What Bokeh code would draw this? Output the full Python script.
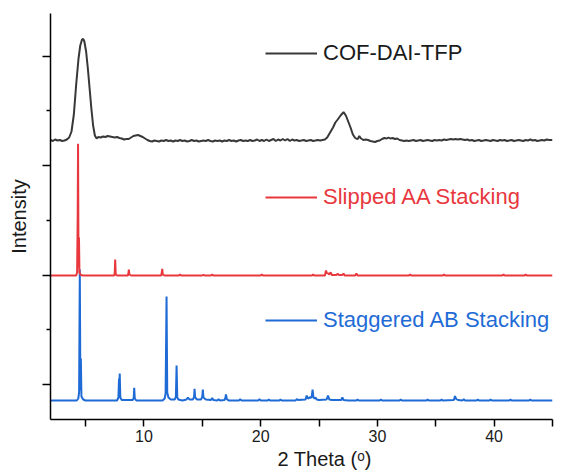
import numpy as np
from bokeh.plotting import figure
from bokeh.models import (Range1d, FixedTicker, Legend, LegendItem, Title, ColumnDataSource)
from bokeh.embed import file_html
from bokeh.resources import INLINE

# ---------------- data (2 Theta in degrees, intensity in arbitrary units above each baseline)
cof_x = [2.0, 2.2, 2.4, 2.6, 2.8, 3.0, 3.2, 3.4, 3.6, 3.8, 4.0, 4.2, 4.4, 4.55, 4.7, 4.8, 4.9, 5.05,
         5.2, 5.35, 5.5, 5.65, 5.8, 5.95, 6.1, 6.3, 6.5, 6.7, 6.9, 7.1, 7.3, 7.5, 7.7, 7.9, 8.1, 8.3,
         8.5, 8.7, 8.9, 9.1, 9.3, 9.5, 9.7, 9.9, 10.1, 10.3, 10.5, 10.7, 10.9, 11.1, 11.3, 11.5, 11.7,
         11.9, 12.1, 12.3, 12.5, 12.7, 12.9, 13.1, 13.3, 13.5, 13.7, 13.9, 14.1, 14.3, 14.5, 14.7,
         14.9, 15.1, 15.3, 15.5, 15.7, 15.9, 16.1, 16.3, 16.5, 16.7, 16.9, 17.1, 17.3, 17.5, 17.7,
         17.9, 18.1, 18.3, 18.5, 18.7, 18.9, 19.1, 19.3, 19.5, 19.7, 19.9, 20.1, 20.3, 20.5, 20.7,
         20.9, 21.1, 21.3, 21.5, 21.7, 21.9, 22.1, 22.3, 22.5, 22.7, 22.9, 23.1, 23.3, 23.5, 23.7,
         23.9, 24.1, 24.3, 24.5, 24.7, 24.9, 25.1, 25.3, 25.5, 25.7, 25.9, 26.2, 26.4, 26.6, 26.85,
         27.1, 27.3, 27.5, 27.7, 27.9, 28.1, 28.25, 28.35, 28.45, 28.6, 28.8, 29.0, 29.2, 29.4, 29.6,
         29.8, 30.0, 30.2, 30.4, 30.6, 30.8, 30.95, 31.1, 31.3, 31.5, 31.7, 31.9, 32.1, 32.3, 32.5,
         32.7, 32.9, 33.1, 33.3, 33.5, 33.7, 33.9, 34.1, 34.3, 34.5, 34.7, 34.9, 35.1, 35.3, 35.5,
         35.7, 35.9, 36.1, 36.3, 36.5, 36.7, 36.9, 37.1, 37.3, 37.5, 37.7, 37.9, 38.1, 38.3, 38.5,
         38.7, 38.9, 39.1, 39.3, 39.5, 39.7, 39.9, 40.1, 40.3, 40.5, 40.7, 40.9, 41.1, 41.3, 41.5,
         41.7, 41.9, 42.1, 42.3, 42.5, 42.7, 42.9, 43.1, 43.3, 43.5, 43.7, 43.9, 44.1, 44.3, 44.5,
         44.7, 45.0]
cof_y = [0.5, -0.5, 1, 0, 0.5, -0.5, 0, 1, 3, 9, 26, 56, 82, 95, 101, 101.7, 99, 89,
         72, 52, 32, 15, 5, 2, 3.5, 3, 4, 3.5, 4.5, 4, 3.5, 3, 3.5, 2.5, 2, 1,
         1.5, 1.5, 3, 4.5, 5, 5.5, 4.5, 3.5, 2, 0.5, -0.5, -1, 0, -0.5, -1, 0, -0.5,
         0.5, -0.5, 0, -1, 0, -0.5, 0.5, -0.5, 0, -1, -0.5, 0.5, -0.5, 0, -1,
         -0.5, 0, -0.5, 0.5, -0.5, -1, 0, -0.5, 0, -1, 0, -0.5, 0.5, -0.5, 0,
         -1, 0, 0.5, -0.5, 0, -0.5, 0.5, -0.5, 0, 1, -0.5, 0.5, -0.5, 1, -0.5,
         0.5, 1.5, -0.5, 1, 0, 1.5, 0, 1.5, -0.5, 1, 0, 0.5, -0.5, 0, 0.5,
         -0.5, 0, 0.5, -0.5, 0, 0.5, 0, 0.5, 1, 3, 7, 13, 18, 21, 25,
         28.4, 25, 19, 13, 6, 2.5, 1.5, 2, 4.5, 2, 0.5, 1, 0.5, -0.5, -1,
         -1.5, -0.5, 0, 1.5, 2.5, 2, 3, 2, 2.5, 1.5, 2, 0.5, 0, -0.5, 0,
         -0.5, 0, 0.5, -0.5, 0, 0.5, -0.5, 0, 0.5, 0, -0.5, 0.5, 0, 0.5, 0,
         1, 0.5, 1, 1.5, 1, 1.5, 1, 1.5, 1, 0.5, 1, 0, 0.5, -0.5, 0,
         0.5, -0.5, 0, 0.5, 0, -0.5, 0.5, 0, -0.5, 0.5, 0, 0.5, -0.5, 0, 0.5,
         -0.5, 0, 0.5, 0, -0.5, 0.5, 0, 1, 0, 0.5, -0.5, 0, 0.5, 0, 1,
         0.5, 0.5]

aa_x = [2.0, 4.2, 4.28, 4.33, 4.36, 4.40, 4.44, 4.48, 4.6, 4.8, 7.45, 7.5, 7.54, 7.59, 7.7,
        8.63, 8.67, 8.71, 8.76, 8.9, 11.48, 11.52, 11.57, 11.62, 11.75, 13.0, 13.1, 13.2,
        15.0, 15.1, 15.2, 15.75, 15.85, 15.95, 20.0, 20.1, 20.2, 24.4, 24.5, 24.6, 25.5, 25.6,
        25.68, 25.75, 25.85, 26.0, 26.1, 26.5, 26.6, 26.7, 27.0, 27.1, 27.2, 28.1, 28.2, 28.3,
        32.7, 32.8, 32.9, 35.6, 35.7, 35.8, 40.7, 40.8, 40.9, 42.6, 42.7, 42.8, 45.0]
aa_y = [0, 0, 3, 60, 131.7, 8, 38, 3, 0.5, 0, 0, 2, 16, 1, 0,
        0, 2, 6, 1, 0, 0, 2, 6.7, 1, 0, 0, 1, 0,
        0, 0.8, 0, 0, 1, 0, 0, 1, 0, 0, 1, 0, 0, 5,
        2, 2.5, 1, 3, 0.5, 0.5, 2, 0.5, 0.5, 2, 0, 0, 2, 0,
        0, 1, 0, 0, 1, 0, 0, 1, 0, 0, 1, 0, 0]

ab_x = [2.0, 4.25, 4.38, 4.45, 4.51, 4.56, 4.60, 4.65, 4.8, 5.0, 7.7, 7.82, 7.87, 7.90, 7.93,
        7.98, 8.1, 9.05, 9.13, 9.17, 9.22, 9.35, 11.6, 11.78, 11.86, 11.94, 12.0, 12.1, 12.3,
        12.65, 12.74, 12.8, 12.86, 12.95, 13.3, 13.65, 13.77, 13.9, 14.2, 14.3, 14.34, 14.39,
        14.55, 14.9, 15.0, 15.05, 15.1, 15.3, 15.75, 15.85, 15.95, 16.3, 16.4, 16.5, 16.9,
        16.98, 17.03, 17.1, 17.25, 18.15, 18.25, 18.35, 19.8, 19.9, 20.0, 20.6, 20.7, 20.8,
        21.6, 21.7, 21.8, 23.0, 23.1, 23.2, 23.85, 23.94, 24.04, 24.15, 24.2, 24.3, 24.38,
        24.45, 24.52, 24.62, 24.7, 24.8, 25.0, 25.65, 25.77, 25.88, 26.1, 26.9, 27.0, 27.1,
        27.5, 28.2, 28.3, 28.4, 30.2, 30.3, 30.4, 31.9, 32.0, 32.1, 34.2, 34.3, 34.4, 35.4,
        35.5, 35.6, 36.55, 36.65, 36.75, 36.9, 37.3, 37.4, 37.5, 38.5, 38.6, 38.7, 39.6, 39.7,
        39.8, 41.3, 41.4, 41.5, 43.0, 43.1, 43.2, 45.0]
ab_y = [0, 0, 2, 8, 131, 10, 42, 4, 1, 0, 0, 3, 22, 14, 27,
        3, 0.5, 0.5, 3, 12.7, 2, 0, 0, 2, 7, 104, 8, 3, 1,
        1, 4, 35, 3, 1, 0, 1, 3, 1, 1, 4, 11.7, 3,
        1, 1, 4, 11, 3, 1, 0.5, 2.5, 0.5, 0, 1.5, 0, 0.5,
        2.5, 6, 1.5, 0, 0, 1.5, 0, 0, 1.5, 0, 0, 1, 0,
        0, 1, 0, 0, 1.5, 0.5, 1, 5, 2, 2.5, 3.5, 2.5, 4,
        11, 3, 2, 3, 1, 0.5, 1, 5, 1, 0.5, 0.5, 3, 0.5,
        0, 0, 1, 0, 0, 1, 0, 0, 1, 0, 0, 1, 0, 0,
        1, 0, 0.5, 4.5, 1.5, 0.5, 0, 1.5, 0, 0, 1, 0, 0, 1,
        0, 0, 1, 0, 0, 1, 0, 0]

series_names = ["COF-DAI-TFP", "Slipped AA Stacking", "Staggered AB Stacking"]
series_offsets = [279, 144, 19]          # vertical stacking offsets (a.u.)
x_major_ticks = [10, 20, 30, 40]
x_minor_ticks = [5, 15, 25, 35, 45]
y_major_ticks = [35, 144.5, 254, 363.5]
y_minor_ticks = [89.75, 199.25, 308.75]

# ---------------- styling
FONT = "Liberation Sans"
C_BLACK, C_RED, C_BLUE = "#383838", "#E8383D", "#1F6BD6"

p = figure(width=561, height=474, output_backend="svg", toolbar_location=None,
           x_range=Range1d(2, 45), y_range=Range1d(0, 406),
           min_border_left=50, min_border_right=9, min_border_top=13, min_border_bottom=55)
p.outline_line_color = None
p.xgrid.visible = False
p.ygrid.visible = False
p.background_fill_color = "white"
p.border_fill_color = "white"

src_ab = ColumnDataSource(dict(x=ab_x, y=np.array(ab_y) + series_offsets[2]))
src_aa = ColumnDataSource(dict(x=aa_x, y=np.array(aa_y) + series_offsets[1]))
src_cof = ColumnDataSource(dict(x=cof_x, y=np.array(cof_y) + series_offsets[0]))

r_ab = p.line("x", "y", source=src_ab, line_color=C_BLUE, line_width=2)
r_aa = p.line("x", "y", source=src_aa, line_color=C_RED, line_width=2)
r_cof = p.line("x", "y", source=src_cof, line_color=C_BLACK, line_width=2)

# axes
xa = p.xaxis[0]
xa.ticker = FixedTicker(ticks=x_major_ticks, minor_ticks=x_minor_ticks)
xa.major_tick_out = 7
xa.major_tick_in = 0
xa.minor_tick_out = 7
xa.minor_tick_in = 0
xa.major_label_text_font = FONT
xa.major_label_text_font_size = "16px"
xa.major_label_text_color = "#1a1a1a"
xa.major_label_standoff = 3

ya = p.yaxis[0]
ya.ticker = FixedTicker(ticks=y_major_ticks, minor_ticks=y_minor_ticks)
ya.major_tick_out = 8
ya.major_tick_in = 0
ya.minor_tick_out = 4
ya.minor_tick_in = 0
ya.major_label_overrides = {t: "" for t in y_major_ticks}
ya.major_label_standoff = 0
ya.axis_label = "Intensity"
ya.axis_label_text_font = FONT
ya.axis_label_text_font_size = "20px"
ya.axis_label_text_font_style = "normal"
ya.axis_label_text_color = "#1a1a1a"
ya.axis_label_standoff = 13

for ax in (xa, ya):
    ax.axis_line_color = "black"
    ax.axis_line_width = 1.5
    ax.major_tick_line_color = "black"
    ax.major_tick_line_width = 1.5
    ax.minor_tick_line_color = "black"
    ax.minor_tick_line_width = 1.5

# x-axis title, placed a little right of centre as in the original
p.add_layout(Title(text="2 Theta (ᵒ)", align="left", offset=227, standoff=2,
                   text_font=FONT, text_font_size="20px", text_font_style="normal",
                   text_color="#1a1a1a"), "below")

# legends (one per series, placed beside each trace)
legend_pos = [(215, 351), (215, 207), (215, 84)]
legend_colors = ["#1a1a1a", C_RED, C_BLUE]
for name, rend, pos, col in zip(series_names, [r_cof, r_aa, r_ab], legend_pos, legend_colors):
    leg = Legend(items=[LegendItem(label=name, renderers=[rend])], location=pos,
                 padding=0, margin=0, spacing=0, glyph_width=52, glyph_height=30,
                 label_height=30, label_standoff=6, border_line_color=None,
                 background_fill_alpha=0, label_text_font=FONT,
                 label_text_font_size="22px", label_text_color=col)
    p.add_layout(leg)

open("out.html", "w").write(file_html(p, INLINE))
